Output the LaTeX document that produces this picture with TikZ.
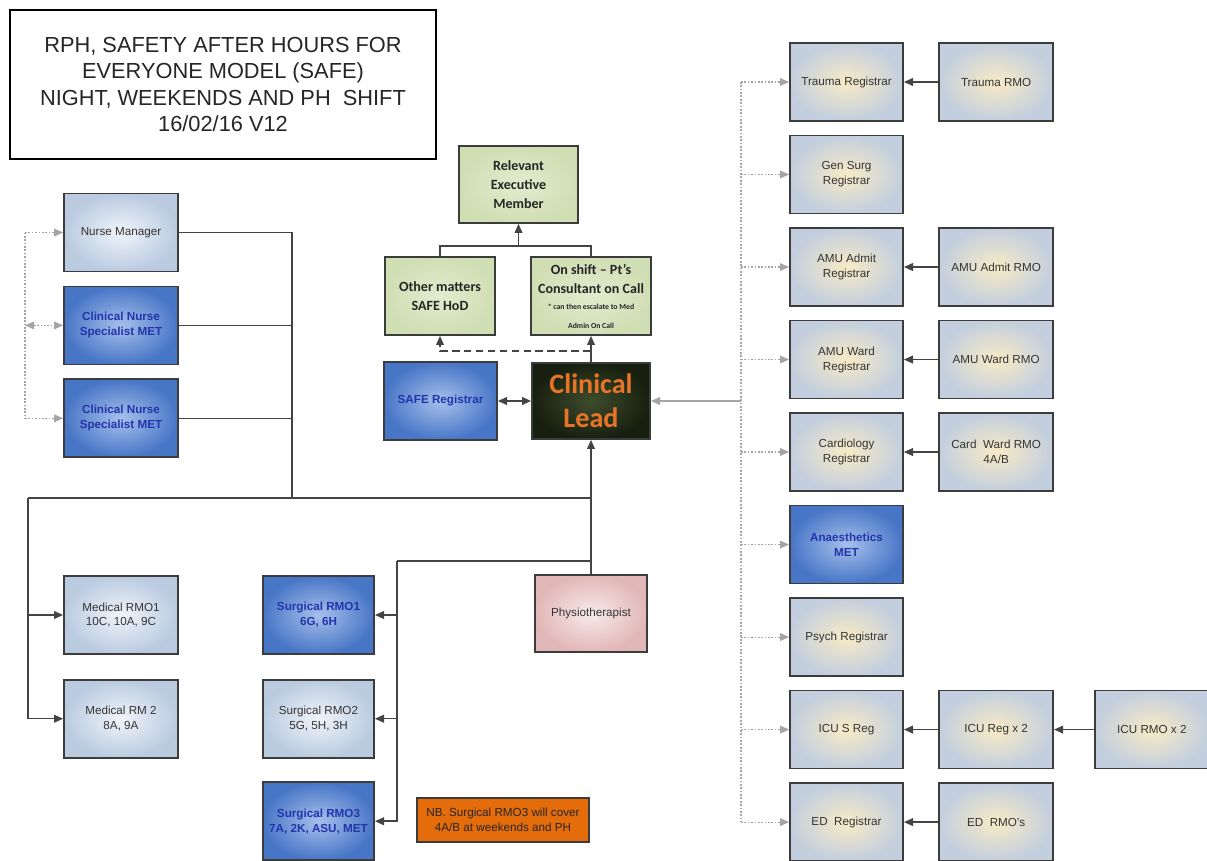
\documentclass[tikz,border=0pt]{standalone}
\usepackage{fontspec}
\setmainfont{Liberation Sans}
\newfontfamily\calibri{Carlito}
\usetikzlibrary{
  arrows.meta,
  positioning
}
\definecolor{boxline}{RGB}{60,60,60}
\definecolor{linegray}{RGB}{68,68,68}
\definecolor{dotgray}{RGB}{165,165,165}
\definecolor{textgray}{RGB}{52,52,52}
\definecolor{creamglow}{RGB}{248,234,198}
\definecolor{steelblue}{RGB}{195,207,222}
\definecolor{paleblue}{RGB}{240,244,250}
\definecolor{lightblue}{RGB}{186,203,224}
\definecolor{metinner}{RGB}{166,192,236}
\definecolor{metouter}{RGB}{72,118,198}
\definecolor{metblue}{RGB}{36,52,170}
\definecolor{greeninner}{RGB}{226,236,206}
\definecolor{greenouter}{RGB}{208,222,180}
\definecolor{leadinner}{RGB}{62,76,44}
\definecolor{leadouter}{RGB}{23,32,15}
\definecolor{leadorange}{RGB}{232,116,42}
\definecolor{physioinner}{RGB}{248,234,234}
\definecolor{physioouter}{RGB}{226,183,183}
\definecolor{noteorange}{RGB}{228,108,10}
\newcommand\boxtext{\fontsize{8.3}{10.6}\selectfont}
\newcommand\tinytext{\fontsize{5.5}{11}\selectfont}
\tikzset{
  >={Triangle[length=6.5pt,width=5.5pt]},
  box/.style={
    draw=boxline,
    line width=1.2pt,
    align=center,
    inner sep=2pt,
    minimum width=2.85cm,
    minimum height=1.95cm,
    font=\boxtext,
    text=textgray
  },
  regbox/.style={
    box,
    inner color=creamglow,
    outer color=steelblue
  },
  lightbox/.style={
    box,
    inner color=paleblue,
    outer color=lightblue
  },
  metbox/.style={
    box,
    inner color=metinner,
    outer color=metouter,
    font=\boxtext\bfseries,
    text=metblue
  },
  escbox/.style={
    box,
    inner color=greeninner,
    outer color=greenouter,
    font=\calibri\bfseries\fontsize{10}{13.5}\selectfont,
    text=black!85
  },
  leadbox/.style={
    box,
    inner color=leadinner,
    outer color=leadouter,
    font=\calibri\bfseries\fontsize{20}{24}\selectfont,
    text=leadorange
  },
  physbox/.style={
    box,
    inner color=physioinner,
    outer color=physioouter
  },
  notebox/.style={
    box,
    fill=noteorange,
    text=black!85
  },
  titlebox/.style={
    draw=black,
    line width=2pt,
    fill=white,
    align=center,
    font=\fontsize{15.5}{18.6}\selectfont,
    text=black!85
  },
  link/.style={
    draw=linegray,
    line width=1.1pt
  },
  linkarrow/.style={
    link,
    ->
  },
  dasharrow/.style={
    link,
    ->,
    dash pattern=on 5.5pt off 3pt
  },
  grayarrow/.style={
    draw=dotgray,
    line width=1.1pt,
    ->
  },
  dotlink/.style={
    draw=dotgray,
    line width=0.8pt,
    dash pattern=on 1.2pt off 1.2pt
  },
  dotarrow/.style={
    dotlink,
    ->
  }
}

\begin{document}
\begin{tikzpicture}[x=0.025cm, y=-0.025cm, node distance=3.2mm and 8.6mm]
\useasboundingbox (0,0) rectangle (1207,860);
\clip (0,0) rectangle (1207,860);

% Title.
\node[titlebox, minimum width=10.65cm, minimum height=3.725cm] (title) at (223,84.5) {
  RPH, SAFETY AFTER HOURS FOR\\
  EVERYONE MODEL (SAFE)\\
  NIGHT, WEEKENDS AND PH\ \ SHIFT\\
  16/02/16 V12
};

% Nursing column.
\node[lightbox] (nurse) at (121,232.5) {Nurse Manager};
\node[metbox, below=3.3mm of nurse] (cns1) {Clinical Nurse\\Specialist MET};
\node[metbox, below=3.3mm of cns1] (cns2) {Clinical Nurse\\Specialist MET};

% Escalation.
\node[escbox, minimum width=2.975cm, minimum height=1.925cm] (exec) at (518.5,184.5) {
  Relevant\\Executive\\Member
};
\node[escbox, minimum width=2.75cm] (hod) at (440,296) {Other matters\\SAFE HoD};
\node[escbox, minimum width=3cm, inner sep=1pt] (onshift) at (591,296) {
  On shift – Pt’s\\
  Consultant on Call\\[-2pt]
  \tinytext * can then escalate to Med\\
  \tinytext Admin On Call
};
\node[metbox, minimum width=2.825cm] (safereg) at (440.5,401) {SAFE Registrar};
\node[leadbox, minimum width=2.95cm, minimum height=1.9cm] (lead) at (591,401) {Clinical\\Lead};

% Medical and surgical RMOs.
\node[lightbox] (medrmo1) at (121,615) {Medical RMO1\\10C, 10A, 9C};
\node[lightbox, below=6mm of medrmo1] (medrm2) {Medical RM 2\\8A, 9A};
\node[metbox, minimum width=2.775cm] (surg1) at (318.5,615) {Surgical RMO1\\6G, 6H};
\node[lightbox, minimum width=2.775cm, below=6mm of surg1] (surg2) {Surgical RMO2\\5G, 5H, 3H};
\node[metbox, minimum width=2.775cm, below=5.7mm of surg2] (surg3) {Surgical RMO3\\7A, 2K, ASU, MET};
\node[physbox, minimum width=2.8cm, minimum height=1.925cm] (physio) at (591,613.5) {Physiotherapist};
\node[notebox, minimum width=4.3cm, minimum height=1.1cm] (note) at (503,820) {
  NB. Surgical RMO3 will cover\\4A/B at weekends and PH
};

% Registrar column.
\node[regbox, minimum width=2.825cm] (trauma) at (846.5,82) {Trauma Registrar};
\node[regbox, minimum width=2.825cm, below=of trauma] (gensurg) {Gen Surg\\Registrar};
\node[regbox, minimum width=2.825cm, below=of gensurg] (amuadmit) {AMU Admit\\Registrar};
\node[regbox, minimum width=2.825cm, below=of amuadmit] (amuward) {AMU Ward\\Registrar};
\node[regbox, minimum width=2.825cm, below=of amuward] (cardio) {Cardiology\\Registrar};
\node[metbox, minimum width=2.825cm, below=of cardio] (anaes) {Anaesthetics\\MET};
\node[regbox, minimum width=2.825cm, below=of anaes] (psych) {Psych Registrar};
\node[regbox, minimum width=2.825cm, below=of psych] (icusreg) {ICU S Reg};
\node[regbox, minimum width=2.825cm, below=of icusreg] (edreg) {ED\ \ Registrar};

% RMO column.
\node[regbox, right=of trauma] (traumarmo) {Trauma RMO};
\node[regbox, right=of amuadmit] (amuadmitrmo) {AMU Admit RMO};
\node[regbox, right=of amuward] (amuwardrmo) {AMU Ward RMO};
\node[regbox, right=of cardio] (cardrmo) {Card\ \ Ward RMO\\4A/B};
\node[regbox, right=of icusreg] (icureg) {ICU Reg x 2};
\node[regbox, right=of edreg] (edrmo) {ED\ \ RMO’s};
\node[regbox, right=10mm of icureg] (icurmo) {ICU RMO x 2};

% Junctions.
\coordinate (lbus) at (25,0);
\coordinate (rbus) at (741,0);
\coordinate (tree) at (292,498);
\coordinate (feed) at (28,498);
\coordinate (surgbus) at (397,561);
\coordinate (esc) at (591,351);
\coordinate (split) at (518.5,246);

% Nursing links.
\draw[dotlink] (nurse.west -| lbus) -- (cns2.west -| lbus);
\draw[dotarrow] (nurse.west -| lbus) -- (nurse.west);
\draw[dotarrow, <->] (cns1.west -| lbus) -- (cns1.west);
\draw[dotarrow] (cns2.west -| lbus) -- (cns2.west);
\draw[link] (nurse.east) -| (tree);
\draw[link] (cns1.east) -- (cns1.east -| tree);
\draw[link] (cns2.east) -- (cns2.east -| tree);

% Feeds into the clinical lead.
\draw[link] (feed) -- (feed -| lead.south);
\draw[linkarrow] (physio.north) -- (lead.south);
\draw[linkarrow] (feed) |- (medrmo1.west);
\draw[linkarrow] (feed) |- (medrm2.west);
\draw[link] (surgbus -| lead.south) -- (surgbus);
\draw[linkarrow] (surgbus) |- (surg1.east);
\draw[linkarrow] (surgbus) |- (surg2.east);
\draw[linkarrow] (surgbus) |- (surg3.east);
\draw[linkarrow, <->] (safereg) -- (lead);

% Escalation links.
\draw[linkarrow] (lead.north) -- (onshift.south);
\draw[dasharrow] (esc) -| (hod.south);
\draw[link] (hod.north) |- (split) -| (onshift.north);
\draw[linkarrow] (split) -- (exec.south);

% Registrar links.
\draw[grayarrow] (lead.east -| rbus) -- (lead.east);
\draw[dotlink] (trauma.west -| rbus) -- (edreg.west -| rbus);
\draw[dotarrow] (trauma.west -| rbus) -- (trauma.west);
\draw[dotarrow] (gensurg.west -| rbus) -- (gensurg.west);
\draw[dotarrow] (amuadmit.west -| rbus) -- (amuadmit.west);
\draw[dotarrow] (amuward.west -| rbus) -- (amuward.west);
\draw[dotarrow] (cardio.west -| rbus) -- (cardio.west);
\draw[dotarrow] (anaes.west -| rbus) -- (anaes.west);
\draw[dotarrow] (psych.west -| rbus) -- (psych.west);
\draw[dotarrow] (icusreg.west -| rbus) -- (icusreg.west);
\draw[dotarrow] (edreg.west -| rbus) -- (edreg.west);
\draw[linkarrow] (traumarmo) -- (trauma);
\draw[linkarrow] (amuadmitrmo) -- (amuadmit);
\draw[linkarrow] (amuwardrmo) -- (amuward);
\draw[linkarrow] (cardrmo) -- (cardio);
\draw[linkarrow] (icureg) -- (icusreg);
\draw[linkarrow] (icurmo) -- (icureg);
\draw[linkarrow] (edrmo) -- (edreg);

\end{tikzpicture}
\end{document}
